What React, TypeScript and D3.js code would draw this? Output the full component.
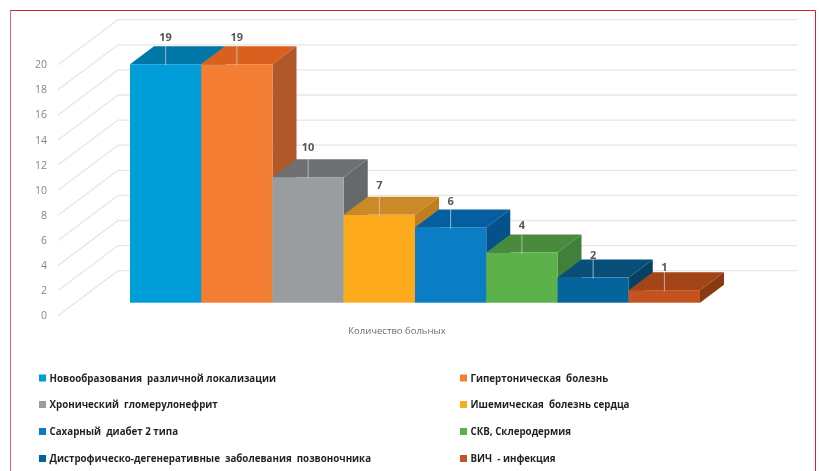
import React from "react";
import * as d3 from "d3";

const categories = [
  "Новообразования  различной локализации",
  "Гипертоническая  болезнь",
  "Хронический  гломерулонефрит",
  "Ишемическая  болезнь сердца",
  "Сахарный  диабет 2 типа",
  "СКВ, Склеродермия",
  "Дистрофическо-дегенеративные  заболевания  позвоночника",
  "ВИЧ  - инфекция",
];
const values = [19, 19, 10, 7, 6, 4, 2, 1];
const frontColors = ["#009ed9", "#f57e35", "#9a9da0", "#fdaa1d", "#0a7dc5", "#5db14a", "#04649b", "#c4531f"];
const topColors = ["#0077a6", "#d9601f", "#6e7073", "#cc8a26", "#045ea0", "#4a8a3c", "#074e78", "#a34516"];
const sideColors = ["#00658f", "#b0582a", "#66696c", "#bf7f1e", "#04518c", "#41803b", "#064266", "#8a3a10"];
const yTicks = d3.range(0, 21, 2);
const axisTitle = "Количество больных";

const W = 819;
const H = 471;
const yFront = d3.scaleLinear().domain([0, 20]).range([302.7, 51.7]);
const x = d3.scaleBand<number>().domain(d3.range(values.length)).range([130, 700]).padding(0);
const depthX = 24;
const depthY = 18;
const wallFront = { x: 58, dy: 13 };
const wallBack = { x: 118, dy: -32 };
const wallRight = 797;
const labelGap = [5.5, 5.5, 8, 8, 4, 5.5, 1, 1];
const legendRows = [378, 404.5, 431.5, 458.5];
const legendCols = [39, 460];
const line = d3.line();
const poly = (pts: [number, number][]) => line(pts) + "Z";

export default function App() {
  return (
    <svg
      width={W}
      height={H}
      viewBox={`0 0 ${W} ${H}`}
      style={{ position: "absolute", left: 0, top: 0, background: "#fff", fontFamily: "'Open Sans', sans-serif" }}
    >
      <g style={{ filter: "blur(0.55px)" }}>
        {yTicks.map((t) => (
          <g key={t}>
            <path
              d={line([
                [wallFront.x, yFront(t) + wallFront.dy],
                [wallBack.x, yFront(t) + wallBack.dy],
                [wallRight, yFront(t) + wallBack.dy],
              ])!}
              fill="none"
              stroke="#e6e6e6"
              strokeWidth={1.3}
            />
            <text x={47} y={yFront(t) + wallFront.dy + 3.5} textAnchor="end" fontSize={10.5} fill="#85868a">
              {t}
            </text>
          </g>
        ))}
        {values.map((v, i) => {
          const x0 = x(i)!;
          const x1 = x0 + x.bandwidth();
          const yt = yFront(v);
          const yb = yFront(0);
          return (
            <g key={i}>
              <path
                d={poly([
                  [x0, yt],
                  [x0 + depthX, yt - depthY],
                  [x1 + depthX, yt - depthY],
                  [x1, yt],
                ])}
                fill={topColors[i]}
              />
              <path
                d={poly([
                  [x1, yt],
                  [x1 + depthX, yt - depthY],
                  [x1 + depthX, yb - depthY],
                  [x1, yb],
                ])}
                fill={sideColors[i]}
              />
              <rect x={x0} y={yt} width={x.bandwidth()} height={yb - yt} fill={frontColors[i]} />
            </g>
          );
        })}
        {values.map((v, i) => {
          const cx = x(i)! + x.bandwidth() / 2;
          const yt = yFront(v);
          return (
            <g key={i}>
              <line x1={cx} x2={cx} y1={yt - depthY} y2={yt + 1} stroke="#c9d3d8" strokeOpacity={0.75} strokeWidth={1} />
              <text x={cx} y={yt - depthY - labelGap[i]} textAnchor="middle" fontSize={11} fontWeight={700} fill="#55585b">
                {v}
              </text>
            </g>
          );
        })}
        <text x={397} y={333.5} textAnchor="middle" fontSize={9.5} fill="#6b6d70">
          {axisTitle}
        </text>
        {categories.map((c, i) => {
          const col = legendCols[i % 2];
          const ry = legendRows[Math.floor(i / 2)];
          return (
            <g key={c}>
              <rect x={col} y={ry - 3.5} width={7} height={7} fill={frontColors[i]} />
              <text
                x={col + 10.5}
                y={ry + 3.5}
                fontSize={9.75}
                fontWeight={700}
                fill="#1f2225"
                style={{ whiteSpace: "pre" }}
              >
                {c}
              </text>
            </g>
          );
        })}
        <path d={line([[10.5, H], [10.5, 10.5], [815.5, 10.5], [815.5, H]])!} fill="none" stroke="#d8232a" strokeWidth={1} />
        <line x1={10.5} x2={10.5} y1={11} y2={H} stroke="#fff" strokeOpacity={0.3} strokeWidth={1} />
      </g>
    </svg>
  );
}
